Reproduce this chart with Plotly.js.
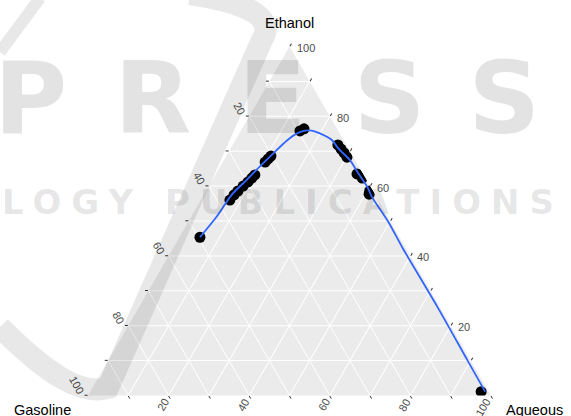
<!DOCTYPE html>
<html>
<head>
<meta charset="utf-8">
<script src="https://cdn.plot.ly/plotly-3.0.1.min.js"></script>
<style>
  html, body { margin: 0; padding: 0; background: #ffffff; }
  #chart { width: 571px; height: 416px; }
</style>
</head>
<body>
<div id="chart"></div>
<script>
// Measured phase compositions (% by volume), one entry per sample
const ethanol  = [45.3, 56.0, 57.5, 58.6, 60.0, 61.2, 62.3, 63.2, 66.9, 67.8, 68.6, 75.8, 76.4,
                  71.8, 70.6, 69.5, 68.3, 63.5, 62.3, 58.6, 57.7, 1.1];
const gasoline = [49.5, 36.8, 35.0, 33.5, 31.5, 29.7, 28.2, 27.0, 22.6, 21.4, 20.3, 9.5, 8.2,
                  2.1, 1.9, 1.7, 1.6, 1.5, 0.8, 0.8, 1.4, 1.9];
const aqueous  = [5.1, 7.2, 7.5, 7.9, 8.5, 9.1, 9.5, 9.8, 10.5, 10.8, 11.1, 14.7, 15.4,
                  26.1, 27.5, 28.8, 30.1, 35.0, 36.9, 40.6, 40.9, 97.0];

// Smoothed binodal curve through the samples (%)
const curveEthanol  = [45.3, 51.2, 57.5, 61.8, 66.1, 69.4, 73.0, 75.1, 75.9, 75.9, 75.1, 73.2,
                       70.8, 67.5, 63.7, 59.8, 57.0, 49.8, 42.2, 25.4, 10.0, 1.1];
const curveGasoline = [49.5, 42.5, 35.6, 29.7, 23.9, 19.3, 14.2, 10.6, 8.2, 6.5, 4.9, 2.9,
                       2.5, 1.3, 1.1, 0.8, 1.1, 0.6, 0.8, 0.6, 0.8, 0.9];
const curveAqueous  = [5.1, 6.3, 6.9, 8.5, 10.0, 11.3, 12.8, 14.3, 15.9, 17.6, 20.0, 23.9,
                       26.7, 31.2, 35.2, 39.4, 41.9, 49.6, 57.0, 74.0, 89.2, 98.0];

// Grid every 10 %, labels every 20 %
const edgeTicks = [10, 20, 30, 40, 50, 60, 70, 80, 90, 100];
const labelledTicks = [20, 40, 60, 80, 100];

// Each edge carries the scale of the component whose grid lines meet it:
// left edge -> Gasoline, bottom edge -> Aqueous, right edge -> Ethanol.
// Along an edge one component is 0, so the other two sum to 100.
const edgeText = edgeTicks.map(v => labelledTicks.includes(v) ? String(v) : '');
const complementVals = edgeTicks.map(v => 100 - v);

const W = 571, H = 416;
// triangle corners in page pixels
const LEFT_X = 88, RIGHT_X = 491, BASE_Y = 395.5, APEX_Y = 46.5;
const SIDE = RIGHT_X - LEFT_X, TRI_H = BASE_Y - APEX_Y;

const px = x => x / W;
const py = y => 1 - y / H;
const path = pts => pts.map(p => typeof p === 'string' ? p : (px(p[0]).toFixed(4) + ',' + py(p[1]).toFixed(4))).join(' ');

const FONT = 'Liberation Sans, Arial, sans-serif';
const tickFont = { family: FONT, size: 11, color: '#4d4d4d' };
const titleFont = { family: FONT, size: 14.5, color: '#000000' };

function edgeAxis(angle, extra) {
  return Object.assign({
    tickmode: 'array',
    tickvals: complementVals,
    ticktext: edgeText,
    tickangle: angle,
    ticks: 'outside',
    ticklen: 3,
    tickwidth: 1,
    tickcolor: '#333333',
    tickfont: tickFont,
    showgrid: true,
    gridcolor: '#ffffff',
    gridwidth: 1,
    showline: false,
    min: 0,
    title: { text: '' }
  }, extra || {});
}

// Aqueous scale along the base, text slanted up to the right
const aqueousLabels = labelledTicks.map(q => {
  const ex = LEFT_X + SIDE * q / 100, ey = BASE_Y;
  const len = 6.1 * String(q).length;
  const endX = ex - 3, endY = ey + 4;
  return {
    xref: 'paper', yref: 'paper', showarrow: false,
    x: px(endX - 0.25 * len), y: py(endY + 0.433 * len),
    xanchor: 'center', yanchor: 'middle', textangle: -60,
    text: String(q), font: tickFont
  };
});

// Ethanol scale along the right edge, horizontal text
const ethanolLabels = labelledTicks.map(e => {
  const ex = RIGHT_X - (SIDE / 2) * e / 100, ey = BASE_Y - TRI_H * e / 100;
  return {
    xref: 'paper', yref: 'paper', showarrow: false,
    x: px(ex + 5), y: py(ey + 1.5),
    xanchor: 'left', yanchor: 'middle',
    text: String(e), font: tickFont
  };
});

const traces = [
  {
    type: 'scatterternary',
    mode: 'markers',
    a: ethanol, b: gasoline, c: aqueous,
    marker: { color: '#000000', size: 11, line: { width: 0 } },
    hoverinfo: 'a+b+c',
    showlegend: false
  },
  {
    type: 'scatterternary',
    mode: 'lines',
    a: curveEthanol, b: curveGasoline, c: curveAqueous,
    line: { color: '#3366ff', width: 1.8, shape: 'spline', smoothing: 0.8 },
    hoverinfo: 'skip',
    showlegend: false
  }
];

const watermark = 'rgba(0,0,0,0.11)';
const markFont = { family: 'DejaVu Sans', weight: 700, color: watermark };

const layout = {
  width: W, height: H,
  margin: { l: 0, r: 0, t: 0, b: 0 },
  paper_bgcolor: '#ffffff',
  font: { family: FONT },
  showlegend: false,
  ternary: {
    domain: { x: [LEFT_X / W, RIGHT_X / W], y: [(H - BASE_Y) / H, (H - APEX_Y) / H] },
    sum: 100,
    bgcolor: '#ebebeb',
    aaxis: edgeAxis(60),
    baxis: edgeAxis(0, { showticklabels: false }),
    caxis: edgeAxis(0, { showticklabels: false })
  },
  annotations: [
    { xref: 'paper', yref: 'paper', x: px(289.5), y: py(23), xanchor: 'center', yanchor: 'middle',
      text: 'Ethanol', showarrow: false, font: titleFont },
    { xref: 'paper', yref: 'paper', x: px(42.5), y: py(409.5), xanchor: 'center', yanchor: 'middle',
      text: 'Gasoline', showarrow: false, font: titleFont },
    { xref: 'paper', yref: 'paper', x: px(534), y: py(409.5), xanchor: 'center', yanchor: 'middle',
      text: 'Aqueous', showarrow: false, font: titleFont },
    // publisher watermark
    { xref: 'paper', yref: 'paper', x: px(-8), y: py(99), xanchor: 'left', yanchor: 'middle',
      text: '<span style="letter-spacing:47px;font-weight:bold">PRESS</span>', showarrow: false,
      font: Object.assign({ size: 100 }, markFont) },
    { xref: 'paper', yref: 'paper', x: px(0), y: py(202), xanchor: 'left', yanchor: 'middle',
      text: '<span style="letter-spacing:10px;font-weight:bold">LOGY PUBLICATIONS</span>', showarrow: false,
      font: Object.assign({ size: 34 }, markFont) }
  ].concat(aqueousLabels, ethanolLabels),
  shapes: [
    { type: 'path', xref: 'paper', yref: 'paper', layer: 'above',
      path: 'M ' + path([[0, 327], 'C', [45, 372], [80, 396], [108, 388], 'L', [262, 40], 'Q', [282, 8], [190, -6]]),
      line: { color: 'rgba(0,0,0,0.09)', width: 22 }, fillcolor: 'rgba(0,0,0,0)' },
    { type: 'path', xref: 'paper', yref: 'paper', layer: 'above',
      path: 'M ' + path([[0, 52], 'L', [40, -2]]),
      line: { color: 'rgba(0,0,0,0.09)', width: 12 } }
  ]
};

Plotly.newPlot('chart', traces, layout, { staticPlot: true, displayModeBar: false });
</script>
</body>
</html>
